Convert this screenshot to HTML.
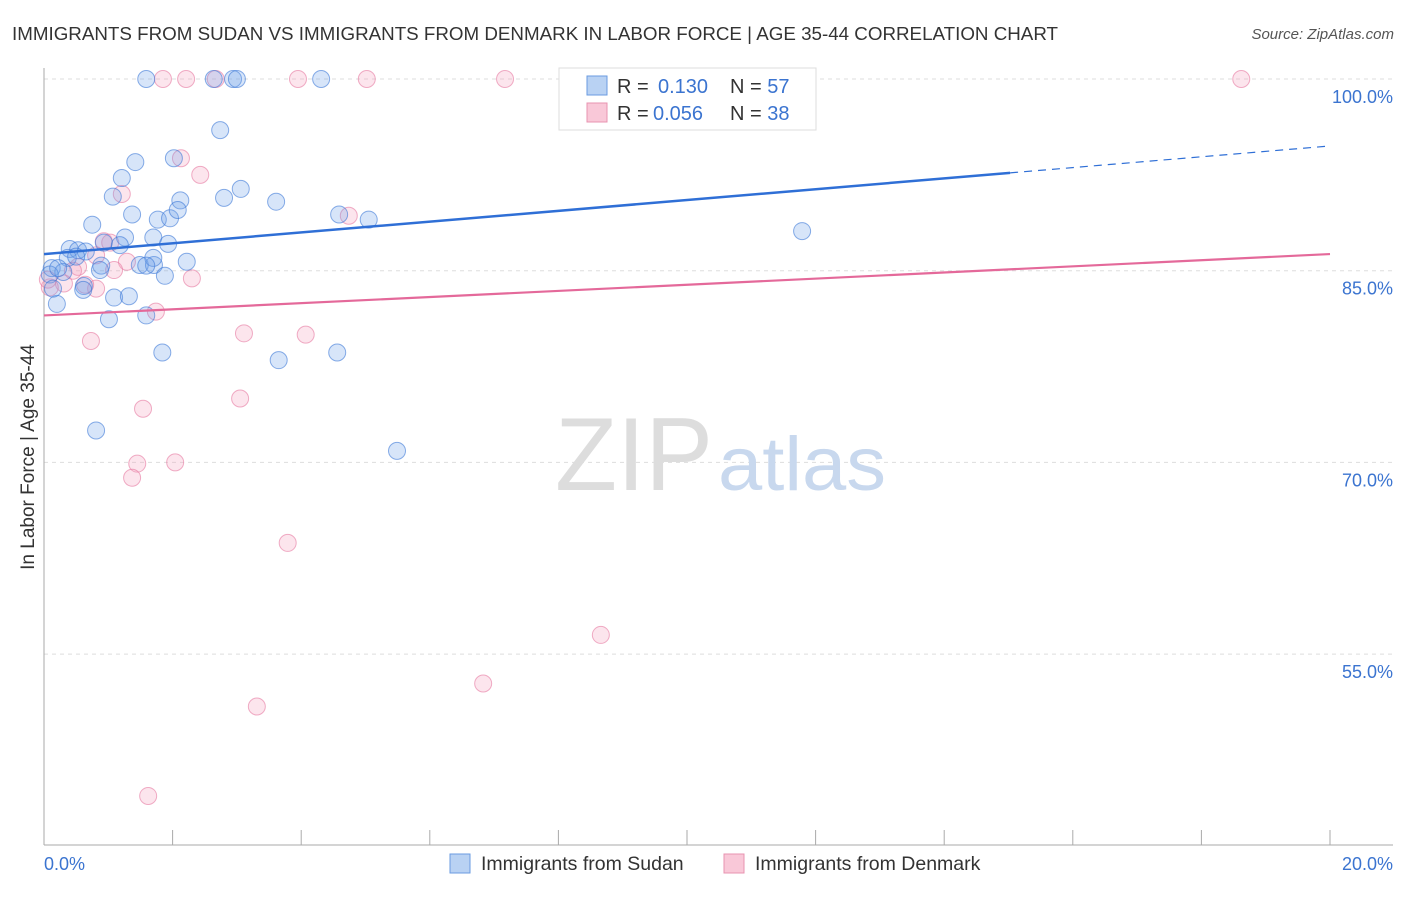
<!DOCTYPE html>
<html><head><meta charset="utf-8"><style>
body{margin:0;background:#fff;font-family:"Liberation Sans",sans-serif}
svg text{font-family:"Liberation Sans",sans-serif}
</style></head><body>
<svg width="1406" height="892" xmlns="http://www.w3.org/2000/svg">
<text x="12" y="40" font-size="18" fill="#333" textLength="1046" lengthAdjust="spacingAndGlyphs">IMMIGRANTS FROM SUDAN VS IMMIGRANTS FROM DENMARK IN LABOR FORCE | AGE 35-44 CORRELATION CHART</text>
<text x="1394" y="39" font-size="15" fill="#555" font-style="italic" text-anchor="end">Source: ZipAtlas.com</text>
<g id="grid"></g>
<text x="555" y="490" font-size="104" fill="#ddd" font-family="Liberation Serif" textLength="158" lengthAdjust="spacingAndGlyphs">ZIP</text>
<text x="718" y="490" font-size="76" fill="#c8d8ee" textLength="168" lengthAdjust="spacingAndGlyphs">atlas</text>
<g id="axes"></g>
<g id="pts"></g>
<g id="lines"></g>
<text transform="translate(34,457) rotate(-90)" font-size="19" fill="#333" text-anchor="middle">In Labor Force | Age 35-44</text>
<text x="44" y="870" font-size="18" fill="#3b74d0">0.0%</text>
<text x="1393" y="870" font-size="18" fill="#3b74d0" text-anchor="end">20.0%</text>
<g>
<rect x="559" y="68" width="257" height="62" fill="#fff" stroke="#ddd"/>
<rect x="587" y="76" width="20" height="19" fill="#b9d2f3" stroke="#6a9be0"/>
<rect x="587" y="103" width="20" height="19" fill="#f9c8d8" stroke="#e893b0"/>
<text x="617" y="93" font-size="20" fill="#333">R = <tspan x="658" fill="#3b74d0">0.130</tspan><tspan x="730">N = </tspan><tspan fill="#3b74d0">57</tspan></text>
<text x="617" y="120" font-size="20" fill="#333">R = <tspan x="653" fill="#3b74d0">0.056</tspan><tspan x="730">N = </tspan><tspan fill="#3b74d0">38</tspan></text>
</g>
<g><rect x="450" y="854" width="20" height="19" fill="#b9d2f3" stroke="#6a9be0"/><text x="481" y="870" font-size="19.5" fill="#333">Immigrants from Sudan</text></g>
<g><rect x="724" y="854" width="20" height="19" fill="#f9c8d8" stroke="#e893b0"/><text x="755" y="870" font-size="19.5" fill="#333">Immigrants from Denmark</text></g>
</svg>
<script>
const yTicks=[100,85,70,55];
const yTickLabels=["100.0%","85.0%","70.0%","55.0%"];
const blueX=[1.59,2.64,2.94,3.00,4.31,2.74,1.42,2.02,1.21,1.07,2.12,2.80,3.06,3.61,1.37,1.77,1.96,2.08,4.59,5.05,0.75,1.26,1.70,11.79,0.40,0.53,0.93,1.18,1.93,0.65,0.37,0.89,1.49,1.71,2.22,0.12,0.30,0.87,1.88,1.70,1.59,0.62,0.61,1.09,1.32,0.20,1.01,1.59,1.84,3.65,4.56,0.81,5.49,0.09,0.22,0.50,0.14];
const blueY=[100,100,100,100,100,96.0,93.5,93.8,92.25,90.8,90.5,90.7,91.4,90.4,89.4,89.0,89.1,89.75,89.4,89.0,88.6,87.6,87.6,88.1,86.7,86.6,87.2,87.0,87.1,86.5,86.0,85.4,85.45,85.45,85.7,85.2,84.9,85.05,84.6,86.0,85.4,83.8,83.5,82.9,83.0,82.4,81.2,81.5,78.6,78.0,78.6,72.5,70.9,84.7,85.2,86.1,83.6];
const pinkX=[1.85,2.21,2.67,3.95,5.02,7.17,18.62,2.13,2.43,1.21,4.74,0.93,1.03,0.81,0.53,1.29,1.09,2.30,0.81,0.64,0.31,0.09,1.74,3.11,4.07,0.73,1.54,3.05,1.45,2.04,1.37,3.79,8.66,6.83,3.31,1.62,0.45,0.06];
const pinkY=[100,100,100,100,100,100,100,93.8,92.5,91.0,89.3,87.3,87.2,86.2,85.3,85.7,85.05,84.4,83.6,83.9,84.0,83.7,81.8,80.1,80.0,79.5,74.2,75.0,69.9,70.0,68.8,63.7,56.5,52.7,50.9,43.9,85.0,84.3];
const blueTrend=[86.3,94.76];
const pinkTrend=[81.5,86.3];
const NS="http://www.w3.org/2000/svg";
const X=v=>44+v*64.3, Y=v=>79+(100-v)*12.78;
function mk(t,a,p){const e=document.createElementNS(NS,t);for(const k in a)e.setAttribute(k,a[k]);p.appendChild(e);return e;}
const grid=document.getElementById('grid'),axes=document.getElementById('axes'),pts=document.getElementById('pts'),lines=document.getElementById('lines');
yTicks.forEach((t,i)=>{
 const l=mk('line',{x1:44,x2:1393,y1:Y(t),y2:Y(t),stroke:'#ddd','stroke-dasharray':'4,4'},grid);
 
 
 const tx=mk('text',{x:1393,y:Y(t)+24,'font-size':18,fill:'#3b74d0','text-anchor':'end'},grid);
 tx.textContent=yTickLabels[i];
 
 
});
mk('line',{x1:44,x2:44,y1:68,y2:845,stroke:'#aaa'},axes);
mk('line',{x1:44,x2:1393,y1:845,y2:845,stroke:'#aaa'},axes);
for(let i=0;i<=10;i++){const t=mk('line',{x1:X(i*2),x2:X(i*2),y1:830,y2:845,stroke:'#aaa'},axes);
 
 }
function dots(xs,ys,fill,stroke,name){xs.forEach((x,i)=>{const c=mk('circle',{cx:X(x),cy:Y(ys[i]),r:8.5,fill:fill,stroke:stroke,'stroke-width':1},pts);
 
 });}
dots(pinkX,pinkY,'rgba(245,160,190,0.28)','rgba(230,120,160,0.6)','denmark-point');
dots(blueX,blueY,'rgba(110,160,235,0.28)','rgba(60,120,215,0.6)','sudan-point');
const bm=blueTrend[0]+(blueTrend[1]-blueTrend[0])*(15.025/20);
const b1=mk('line',{x1:X(0),y1:Y(blueTrend[0]),x2:X(15.025),y2:Y(bm),stroke:'#2f6fd6','stroke-width':2.5},lines);


const b2=mk('line',{x1:X(15.025),y1:Y(bm),x2:X(20),y2:Y(blueTrend[1]),stroke:'#2f6fd6','stroke-width':1.2,'stroke-dasharray':'8,6'},lines);


const p1=mk('line',{x1:X(0),y1:Y(pinkTrend[0]),x2:X(20),y2:Y(pinkTrend[1]),stroke:'#e4699a','stroke-width':2.2},lines);


</script>
</body></html>
